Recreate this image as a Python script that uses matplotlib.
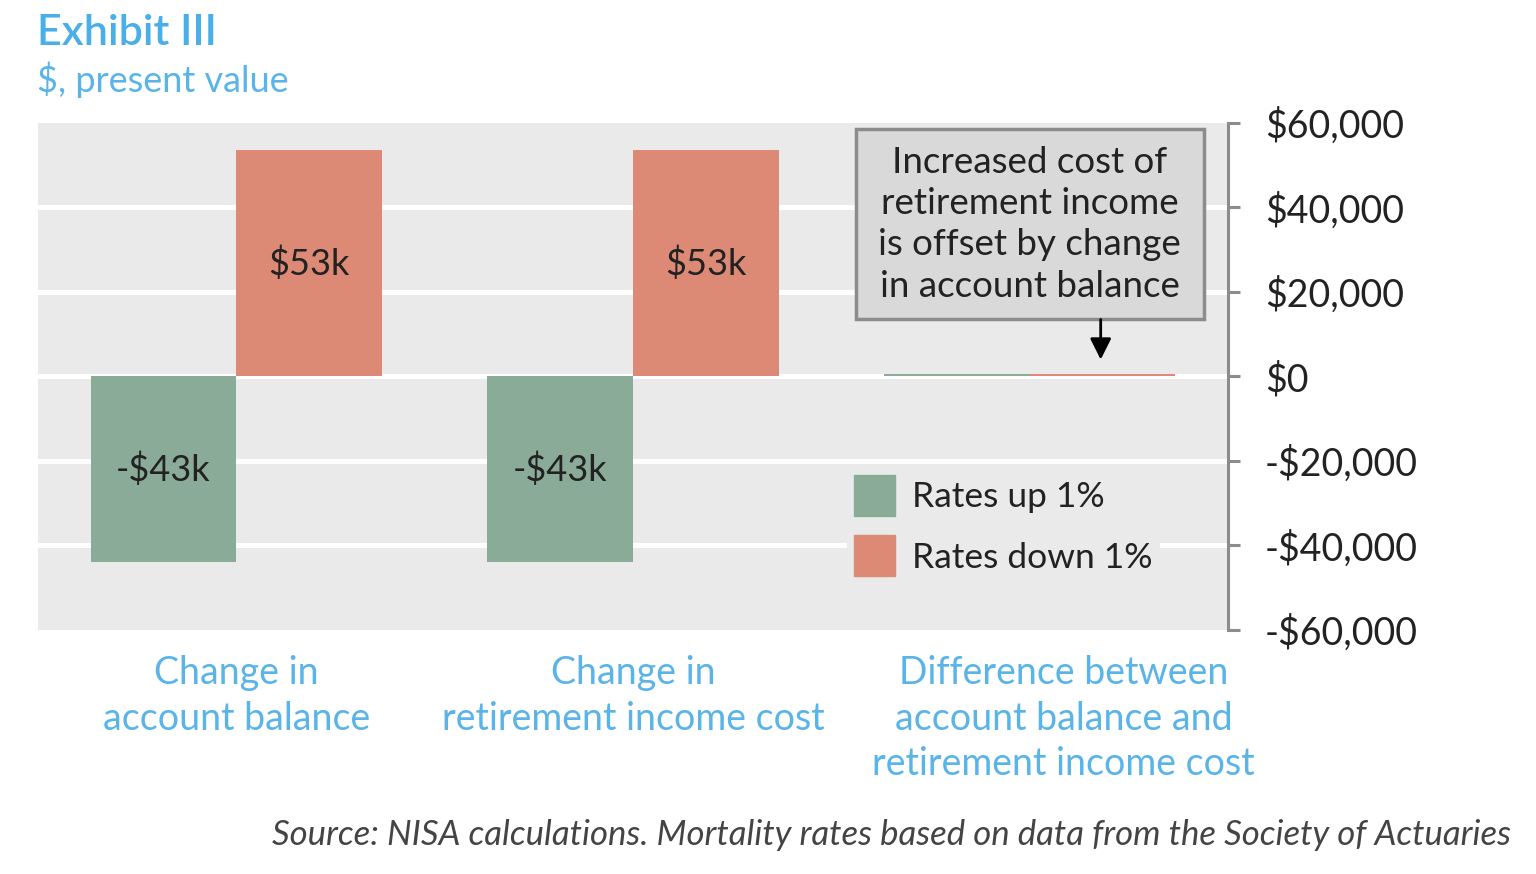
import matplotlib
matplotlib.use("Agg")
import matplotlib.pyplot as plt
from matplotlib.patches import Patch, Rectangle
import numpy as np

categories = ["Change in\naccount balance",
              "Change in\nretirement income cost",
              "Difference between\naccount balance and\nretirement income cost"]
rates_up = [-44000, -44000, 500]
rates_down = [53500, 53500, 500]
up_labels = ["-$43k", "-$43k", ""]
down_labels = ["$53k", "$53k", ""]
yticks = [-60000, -40000, -20000, 0, 20000, 40000, 60000]
ytick_labels = ["-$60,000", "-$40,000", "-$20,000", "$0", "$20,000", "$40,000", "$60,000"]

green = "#8aab98"
red = "#dc8a75"
blue = "#5ab4e8"
bg = "#eaeaea"
dark = "#222222"

plt.rcParams['font.family'] = ['Lato', 'DejaVu Sans']

fig = plt.figure(figsize=(15.36, 8.74), dpi=100)
ax = fig.add_axes([0.0247, 0.2792, 0.7748, 0.5801])
ax.set_facecolor(bg)

x = np.arange(len(categories))
w = 0.367
ax.bar(x - w / 2, rates_up, w, color=green, zorder=3)
ax.bar(x + w / 2, rates_down, w, color=red, zorder=3)

for i in range(len(categories)):
    if up_labels[i]:
        ax.text(x[i] - w / 2, rates_up[i] / 2, up_labels[i], ha="center", va="center",
                fontsize=26, color=dark, zorder=4)
    if down_labels[i]:
        ax.text(x[i] + w / 2, rates_down[i] / 2, down_labels[i], ha="center", va="center",
                fontsize=26, color=dark, zorder=4)

ax.set_xlim(-0.5, 2.5)
ax.set_ylim(-60000, 60000)
ax.set_xticks([])
ax.yaxis.tick_right()
ax.set_yticks(yticks)
ax.set_yticklabels(ytick_labels, fontsize=27, color=dark)
ax.tick_params(axis="y", direction="out", length=8.5, width=2.2, color="#8c8c8c", pad=18)
for g in yticks[1:-1]:
    ax.axhline(g, color="white", lw=3.6, zorder=1)
for s in ["top", "bottom", "left"]:
    ax.spines[s].set_visible(False)
ax.spines["right"].set_color("#8c8c8c")
ax.spines["right"].set_linewidth(2.2)

# category labels under the groups
label_x = [0, 1, 2.086]
for lx, cat in zip(label_x, categories):
    ax.text(lx, -66000, cat, ha="center", va="top", fontsize=27, color=blue,
            linespacing=1.32, clip_on=False)

# callout box with arrow
ax.add_patch(Rectangle((1.561, 13500), 0.878, 45000, facecolor="#d9d9d9",
                       edgecolor="#8c8c8c", lw=2.5, zorder=5))
ax.text(2.0, 36000, "Increased cost of\nretirement income\nis offset by change\nin account balance",
        ha="center", va="center", fontsize=26.5, color=dark, linespacing=1.3, zorder=6)
ax.annotate("", xy=(2.179, 4000), xytext=(2.179, 13500),
            arrowprops=dict(arrowstyle="-|>", color="black", lw=2, mutation_scale=32,
                            shrinkA=0, shrinkB=0), zorder=6)

handles = [Patch(color=green, label="Rates up 1%"), Patch(color=red, label="Rates down 1%")]
leg = ax.legend(handles=handles, loc="upper left", bbox_to_anchor=(0.5514, 0.4645),
                bbox_transform=fig.transFigure, frameon=True, facecolor=bg, edgecolor="none",
                framealpha=1, fancybox=False, fontsize=25.5, handlelength=1.16, handleheight=1.4,
                labelspacing=0.55, handletextpad=0.49, borderpad=0.2, borderaxespad=0)
for t in leg.get_texts():
    t.set_color(dark)

fig.text(0.024, 0.962, "Exhibit III", fontsize=31, color="#4aaee8", fontweight="semibold",
         ha="left", va="center")
fig.text(0.024, 0.909, "$, present value", fontsize=26, color=blue,
         ha="left", va="center")
fig.text(0.984, 0.045, "Source: NISA calculations. Mortality rates based on data from the Society of Actuaries",
         fontsize=25, color="#444444", style="italic", ha="right", va="center")

fig.savefig("out.png", dpi=100)
